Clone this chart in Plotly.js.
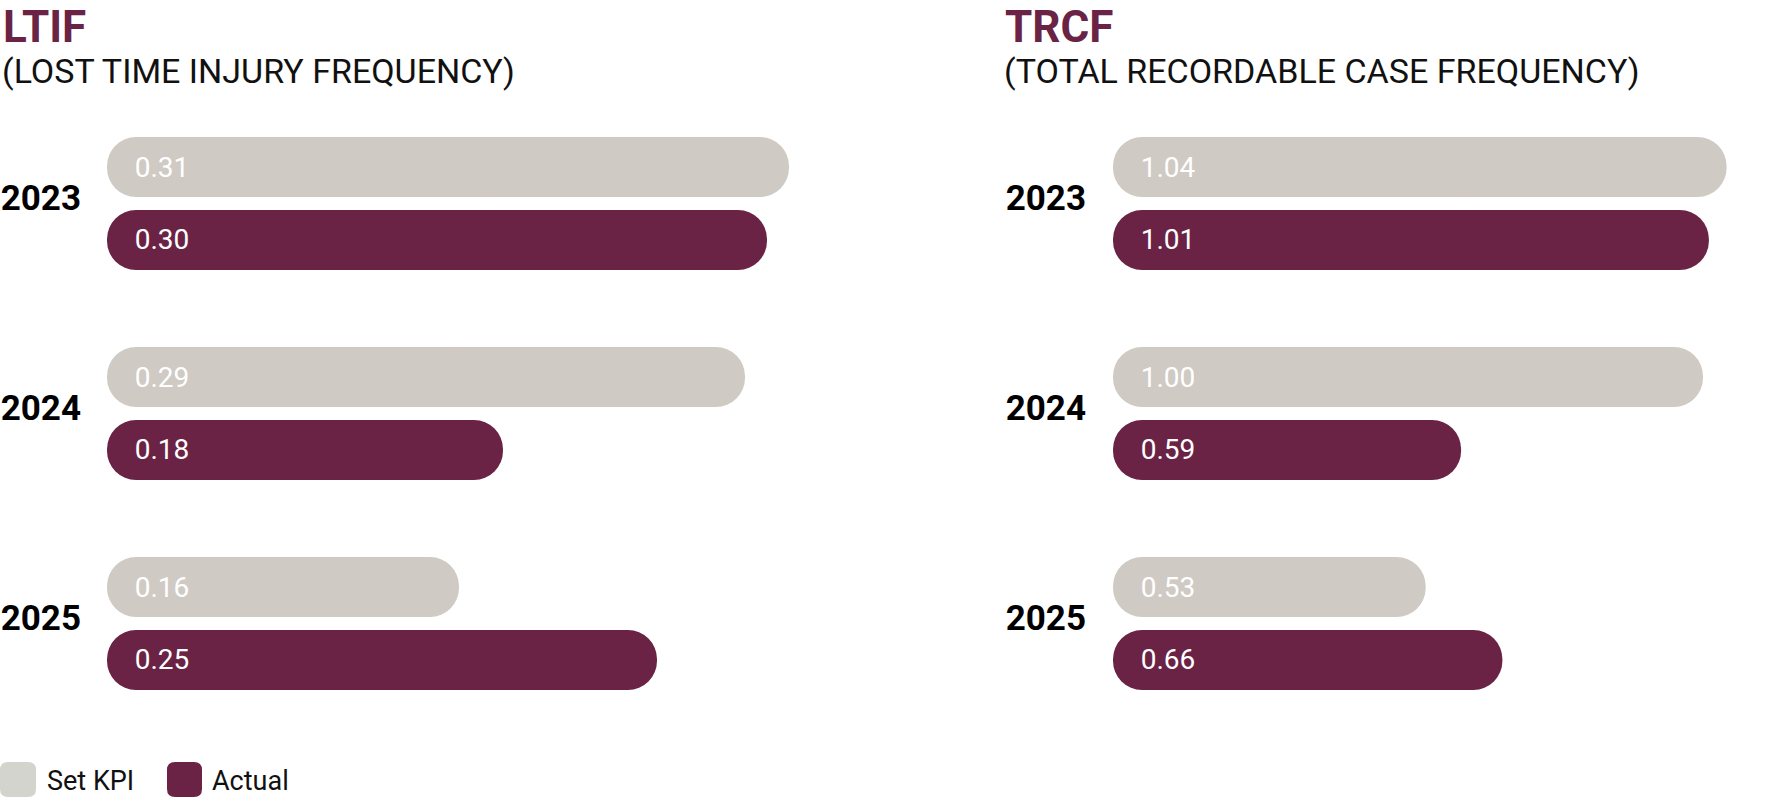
<!DOCTYPE html>
<html>
<head>
<meta charset="utf-8">
<script src="https://cdn.plot.ly/plotly-3.0.1.min.js"></script>
<style>
  html, body { margin: 0; padding: 0; background: #ffffff; }
  #chart { width: 1791px; height: 803px; }
</style>
</head>
<body>
<div id="chart"></div>
<script>
// ---- data ----
const years = ['2023', '2024', '2025'];
const seriesNames = ['Set KPI', 'Actual'];
const ltifKPI = [0.31, 0.29, 0.16];
const ltifActual = [0.30, 0.18, 0.25];
const trcfKPI = [1.04, 1.00, 0.53];
const trcfActual = [1.01, 0.59, 0.66];
const panelTitles = ['LTIF', 'TRCF'];
const panelSubtitles = ['(LOST TIME INJURY FREQUENCY)', '(TOTAL RECORDABLE CASE FREQUENCY)'];

// ---- styles ----
const W = 1791, H = 803;
const PURPLE = '#6A2345';
const GREY = '#D0CAC4';
const LEGEND_GREY = '#D4D4CE';
const NF = 'Roboto, sans-serif';
const BF = 'Roboto, sans-serif';

const px = x => x / W;
const py = y => 1 - y / H;

const pad = '\u00A0\u00A0\u200A\u200A';

// A pill-shaped bar 0 -> v is drawn as two overlapping bars in the same slot:
// one from 0.4v up to v (rounded at v) and one from 0.6v down to 0 (rounded at 0).
function pillTraces(vals, name, color, group, xa, ya) {
  const common = {
    type: 'bar', orientation: 'h', name: name, y: years, xaxis: xa, yaxis: ya,
    offsetgroup: group + xa, alignmentgroup: xa,
    marker: { color: color, cornerradius: 30, line: { width: 0 } },
    hoverinfo: 'skip', showlegend: false
  };
  const front = Object.assign({}, common, {
    base: vals.map(v => v * 0.4), x: vals.map(v => v * 0.6), textposition: 'none'
  });
  const back = Object.assign({}, common, {
    base: vals.map(v => v * 0.6), x: vals.map(v => -v * 0.6),
    text: vals.map(v => v.toFixed(2)),
    texttemplate: pad + '%{text}',
    textposition: 'inside', insidetextanchor: 'end',
    textangle: 0, constraintext: 'none',
    textfont: { family: NF, size: 28, color: '#FFFFFF' }
  });
  return [front, back];
}

const data = [].concat(
  pillTraces(ltifKPI, seriesNames[0], GREY, 'kpi', 'x', 'y'),
  pillTraces(ltifActual, seriesNames[1], PURPLE, 'act', 'x', 'y'),
  pillTraces(trcfKPI, seriesNames[0], GREY, 'kpi', 'x2', 'y2'),
  pillTraces(trcfActual, seriesNames[1], PURPLE, 'act', 'x2', 'y2')
);

const yDomain = [1 - 728.5 / H, 1 - 98.5 / H];
function yAxis(anchor, standoff) {
  return {
    domain: yDomain, anchor: anchor, type: 'category',
    categoryorder: 'array', categoryarray: years,
    autorange: 'reversed', showgrid: false, zeroline: false, showline: false,
    ticks: '', ticklabelstandoff: standoff, ticklabelshift: 6,
    tickfont: { family: BF, size: 35, color: '#000000', weight: 700 },
    fixedrange: true
  };
}
function xAxis(domain, range, anchor) {
  return {
    domain: domain, range: range, anchor: anchor,
    showgrid: false, zeroline: false, showline: false, showticklabels: false,
    ticks: '', fixedrange: true
  };
}

function roundRect(x0, y0, x1, y1, r) {
  const P = (x, y) => px(x) + ',' + py(y);
  return 'M' + P(x0 + r, y0) + ' L' + P(x1 - r, y0) + ' Q' + P(x1, y0) + ' ' + P(x1, y0 + r) +
    ' L' + P(x1, y1 - r) + ' Q' + P(x1, y1) + ' ' + P(x1 - r, y1) +
    ' L' + P(x0 + r, y1) + ' Q' + P(x0, y1) + ' ' + P(x0, y1 - r) +
    ' L' + P(x0, y0 + r) + ' Q' + P(x0, y0) + ' ' + P(x0 + r, y0) + ' Z';
}

const annotations = [];
const titleX = [2, 1004];
for (let i = 0; i < 2; i++) {
  annotations.push({
    xref: 'paper', yref: 'paper', x: px(titleX[i]), y: 1, xanchor: 'left', yanchor: 'top',
    text: panelTitles[i], showarrow: false, borderpad: 0,
    font: { family: BF, size: 44, color: PURPLE, weight: 700 }
  });
  annotations.push({
    xref: 'paper', yref: 'paper', x: px(titleX[i] - 2), y: py(71), xanchor: 'left', yanchor: 'middle',
    text: panelSubtitles[i], showarrow: false,
    font: { family: NF, size: 34, color: '#111111' }
  });
}
annotations.push({
  xref: 'paper', yref: 'paper', x: px(45), y: py(781), xanchor: 'left', yanchor: 'middle',
  text: seriesNames[0], showarrow: false, font: { family: NF, size: 27, color: '#111111' }
});
annotations.push({
  xref: 'paper', yref: 'paper', x: px(210), y: py(781), xanchor: 'left', yanchor: 'middle',
  text: seriesNames[1], showarrow: false, font: { family: NF, size: 27, color: '#111111' }
});

const shapes = [
  { type: 'path', xref: 'paper', yref: 'paper', path: roundRect(0, 762, 36, 797, 8), fillcolor: LEGEND_GREY, line: { width: 0 } },
  { type: 'path', xref: 'paper', yref: 'paper', path: roundRect(167, 762, 202, 797, 8), fillcolor: PURPLE, line: { width: 0 } }
];

const layout = {
  width: W, height: H,
  margin: { l: 0, r: 0, t: 0, b: 0, pad: 0 },
  paper_bgcolor: '#FFFFFF', plot_bgcolor: '#FFFFFF',
  barmode: 'group', bargap: 0.305, bargroupgap: 0.178,
  showlegend: false,
  xaxis: xAxis([107 / W, 877 / W], [0, 0.35], 'y'),
  yaxis: yAxis('x', 25),
  xaxis2: xAxis([1113 / W, 1773 / W], [0, 660 / 590], 'y2'),
  yaxis2: yAxis('x2', 26),
  annotations: annotations,
  shapes: shapes
};

Plotly.newPlot('chart', data, layout, { staticPlot: true, displayModeBar: false });
</script>
</body>
</html>
